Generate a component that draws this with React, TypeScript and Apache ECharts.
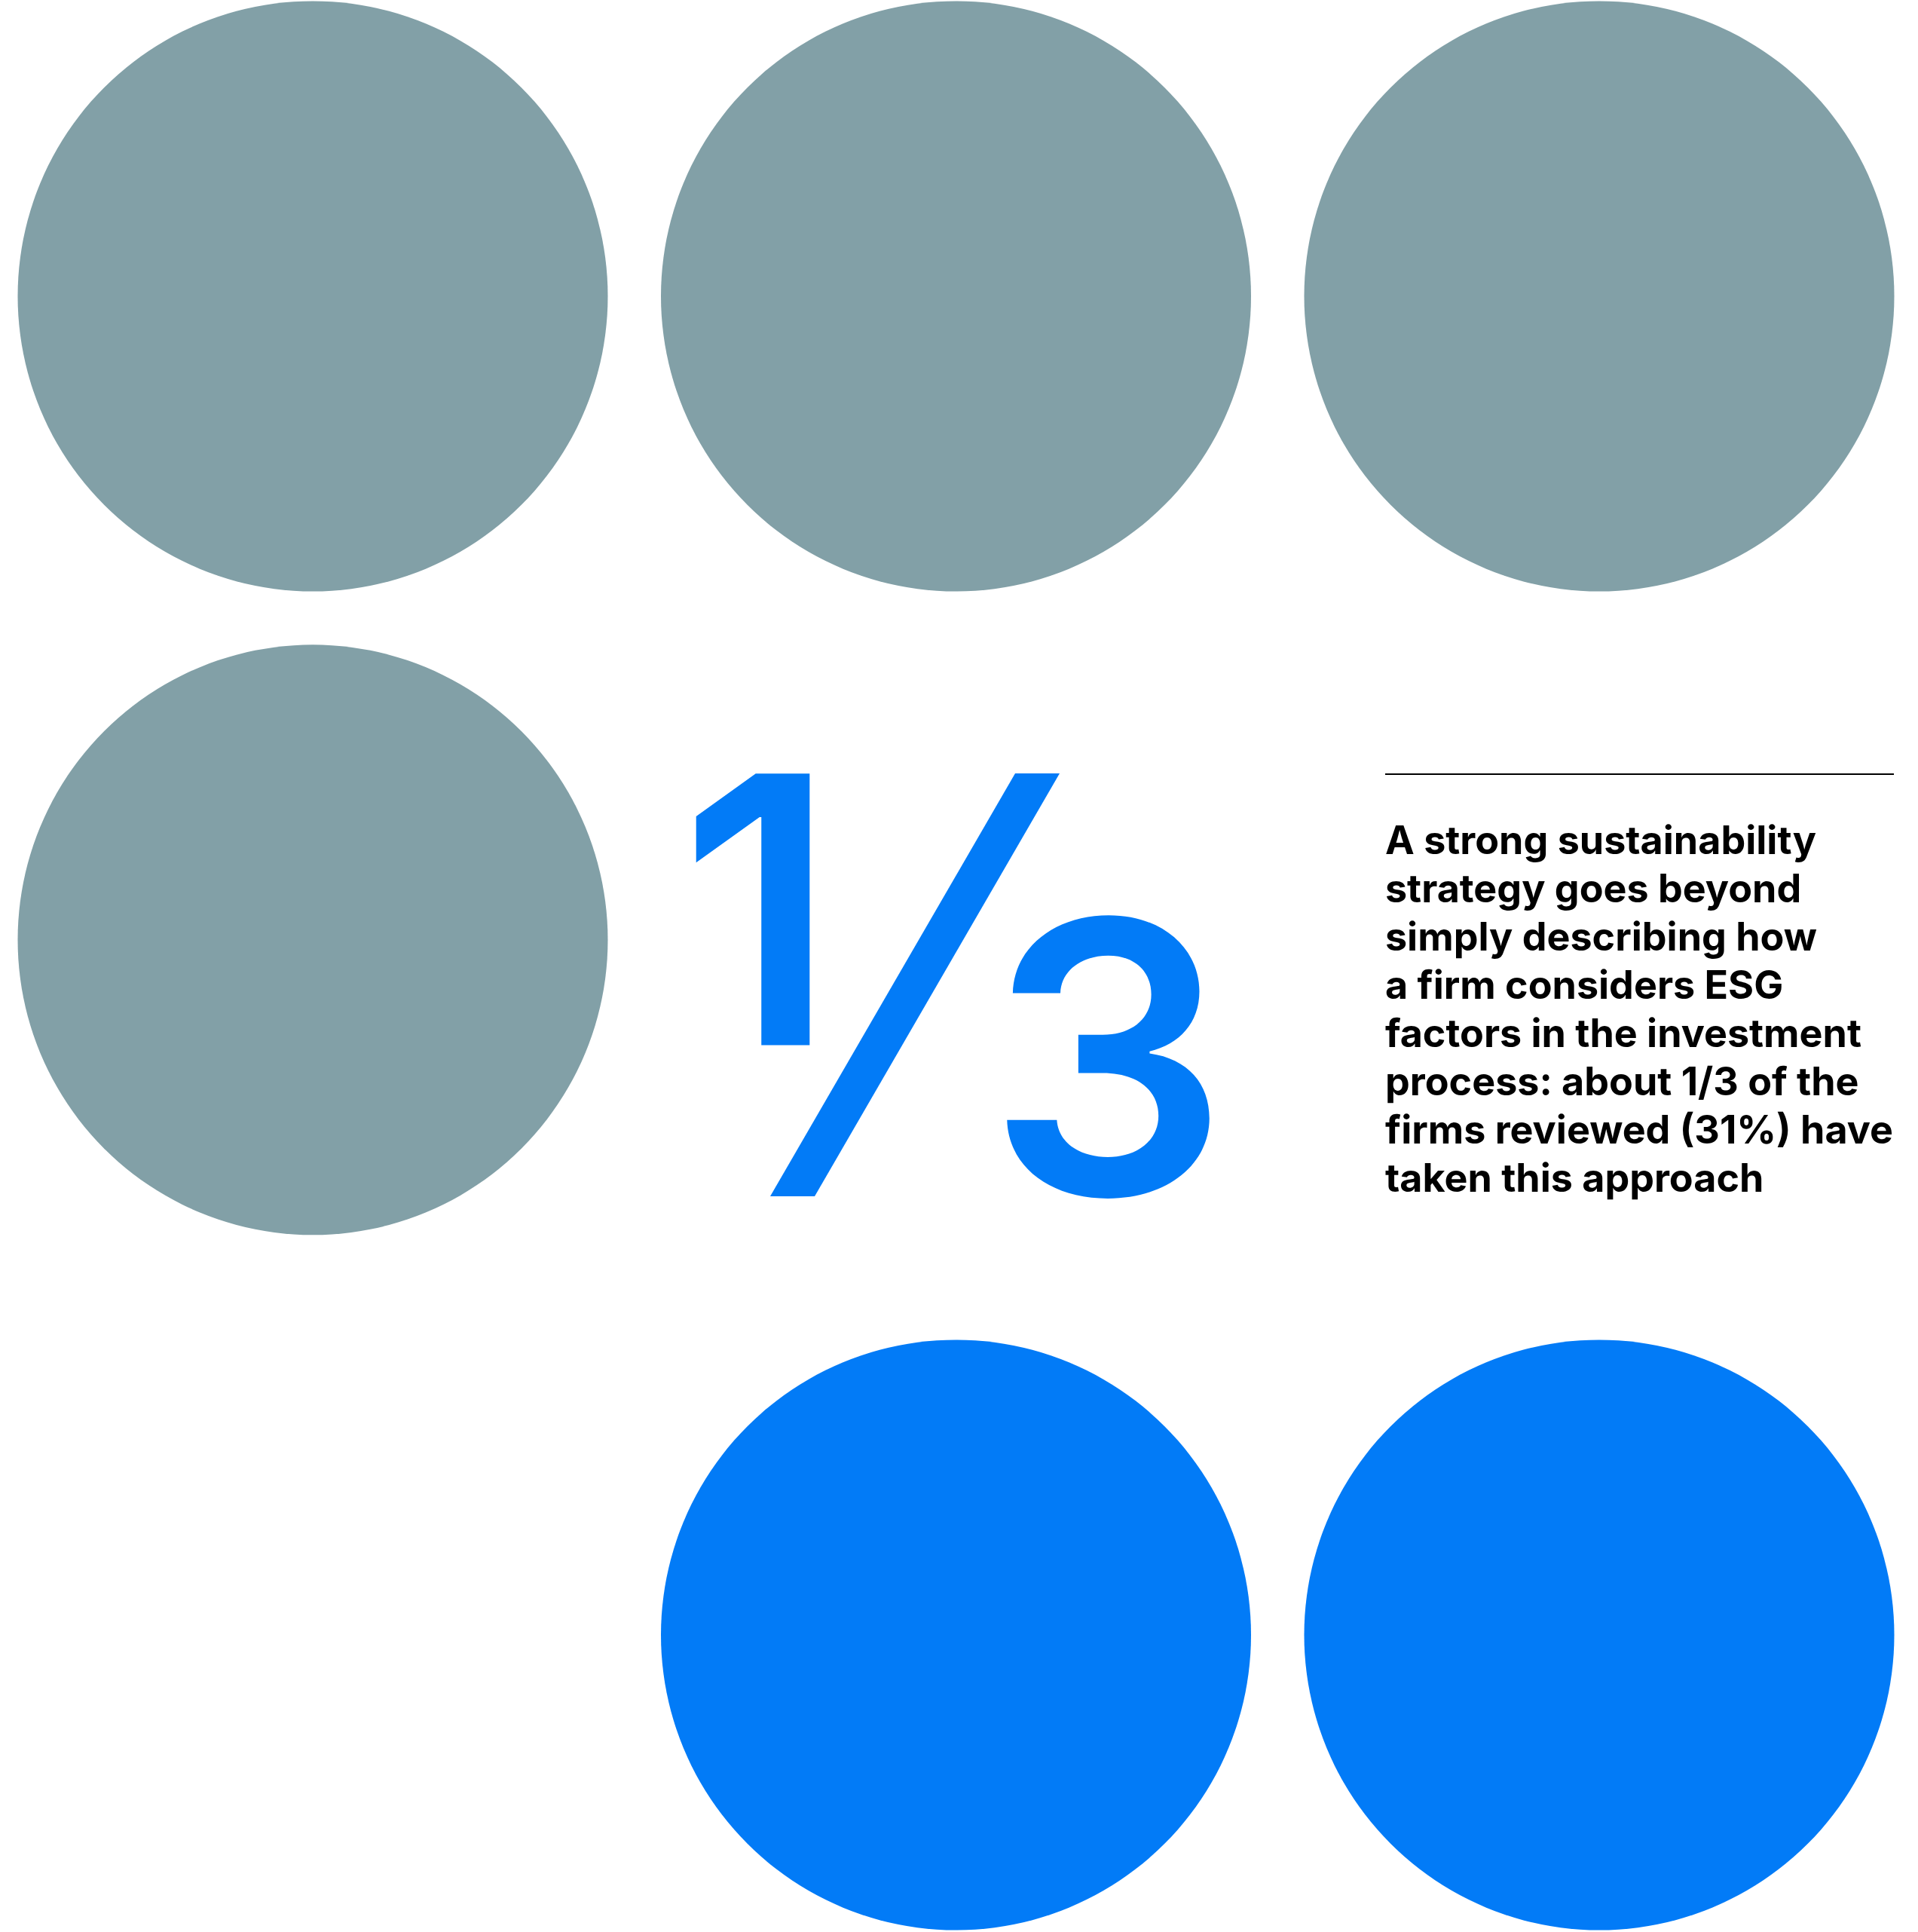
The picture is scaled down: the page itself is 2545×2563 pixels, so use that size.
import React, { useEffect, useRef } from "react";
import * as echarts from "echarts";

// 3 x 3 dot grid: each dot = one third of the firms; empty slots are the "1/3" figure and the note
const dotCol = [0, 1, 2, 0, 1, 2];
const dotRow = [0, 0, 0, 1, 2.08, 2.08];
const dotGroup = ["other", "other", "other", "other", "esg", "esg"];
const groupColor: Record<string, string> = { other: "#82A0A7", esg: "#027BF7" };

const bigNumerator = "1";
const bigDenominator = "3";
const noteLines = [
  "A strong sustainability",
  "strategy goes beyond",
  "simply describing how",
  "a firm considers ESG",
  "factors in the investment",
  "process: about 1/3 of the",
  "firms reviewed (31%) have",
  "taken this approach",
];

const W = 2545;
const H = 2563;

export default function App() {
  const ref = useRef<HTMLDivElement>(null);
  useEffect(() => {
    document.body.style.margin = "0";
    const chart = echarts.init(ref.current!, undefined, { renderer: "svg" });
    const data = dotCol.map((c, i) => ({
      value: [c, dotRow[i]],
      itemStyle: { color: groupColor[dotGroup[i]], opacity: 1 },
    }));
    const font = "Inter, 'Noto Sans', sans-serif";
    chart.setOption({
      animation: false,
      backgroundColor: "#ffffff",
      grid: { left: 415, top: 393, width: 1707, height: 1776, containLabel: false },
      xAxis: { type: "value", min: 0, max: 2, show: false },
      yAxis: { type: "value", min: 0, max: 2.08, inverse: true, show: false },
      series: [
        {
          type: "scatter",
          symbol: "circle",
          symbolSize: 783,
          clip: false,
          data,
          silent: true,
          itemStyle: { opacity: 1 },
        },
      ],
      graphic: [
        {
          type: "text",
          x: 901,
          y: 1206,
          style: {
            text: bigNumerator,
            fontFamily: font,
            fontWeight: 600,
            fontSize: 495,
            lineHeight: 495,
            fill: "#027BF7",
            align: "left",
            verticalAlign: "middle",
          },
        },
        {
          type: "polygon",
          shape: {
            points: [
              [1347, 1026],
              [1406, 1026],
              [1081, 1587],
              [1022, 1587],
            ],
          },
          style: { fill: "#027BF7" },
        },
        {
          type: "text",
          x: 1310,
          y: 1402,
          style: {
            text: bigDenominator,
            fontFamily: font,
            fontWeight: 600,
            fontSize: 503,
            lineHeight: 503,
            fill: "#027BF7",
            align: "left",
            verticalAlign: "middle",
          },
        },
        {
          type: "line",
          shape: { x1: 1838, y1: 1027, x2: 2513, y2: 1027 },
          style: { stroke: "#000000", lineWidth: 2 },
        },
        ...noteLines.map((t, i) => ({
          type: "text",
          x: 1838,
          y: 1114 + i * 64,
          style: {
            text: t,
            fontFamily: font,
            fontWeight: 700,
            fontSize: 52,
            lineHeight: 64,
            fill: "#000000",
            align: "left",
            verticalAlign: "middle",
          },
        })),
      ],
    });
    return () => chart.dispose();
  }, []);
  return <div ref={ref} style={{ width: W, height: H }} />;
}
